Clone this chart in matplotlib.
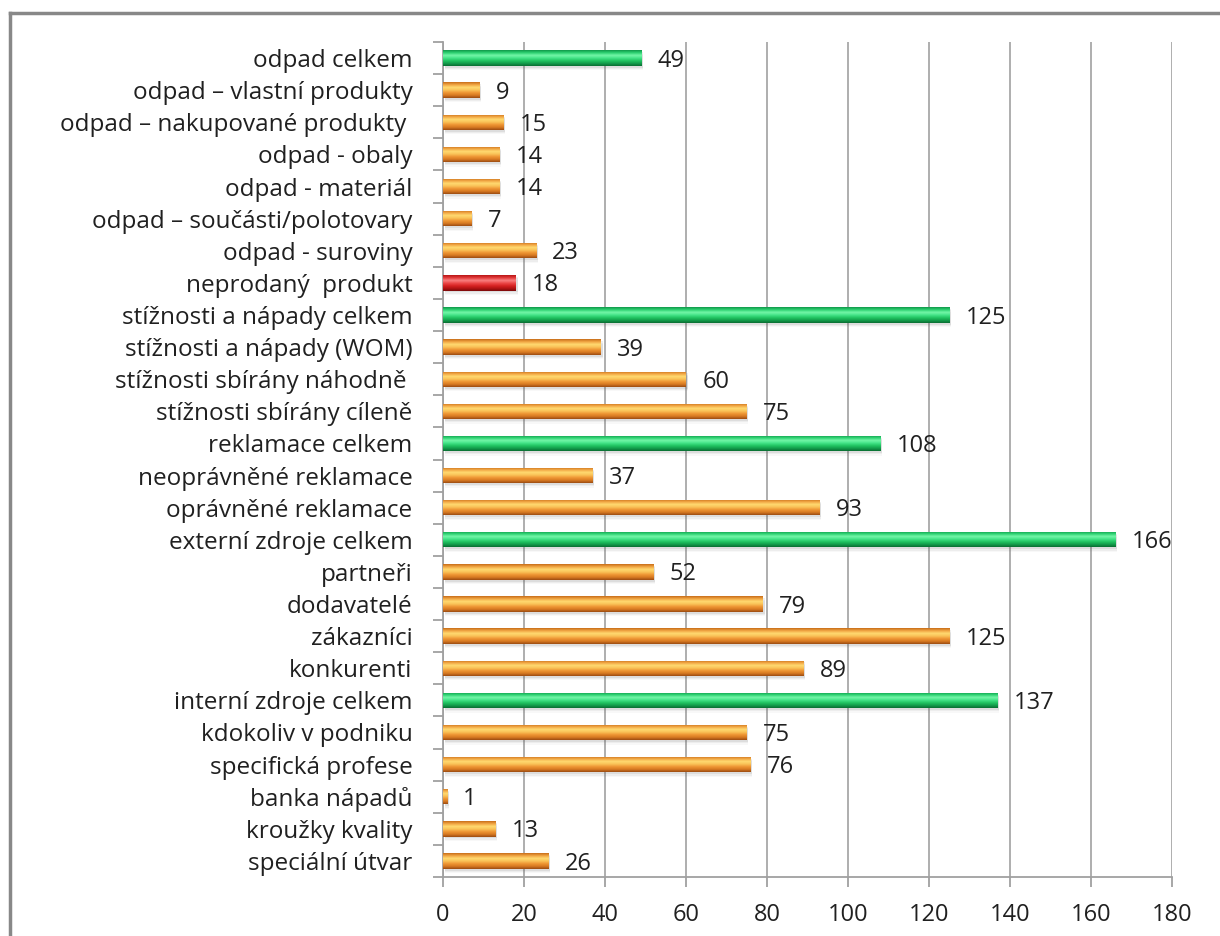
import numpy as np
import matplotlib
matplotlib.use("Agg")
import matplotlib.pyplot as plt
from matplotlib.colors import LinearSegmentedColormap
from matplotlib.lines import Line2D
from matplotlib.patches import Rectangle

plt.rcParams['font.family'] = ['Open Sans', 'DejaVu Sans']

categories = [
    "odpad celkem",
    "odpad \u2013 vlastní produkty",
    "odpad \u2013 nakupované produkty ",
    "odpad - obaly",
    "odpad - materiál",
    "odpad \u2013 součásti/polotovary",
    "odpad - suroviny",
    "neprodaný  produkt",
    "stížnosti a nápady celkem",
    "stížnosti a nápady (WOM)",
    "stížnosti sbírány náhodně ",
    "stížnosti sbírány cíleně",
    "reklamace celkem",
    "neoprávněné reklamace",
    "oprávněné reklamace",
    "externí zdroje celkem",
    "partneři",
    "dodavatelé",
    "zákazníci",
    "konkurenti",
    "interní zdroje celkem",
    "kdokoliv v podniku",
    "specifická profese",
    "banka nápadů",
    "kroužky kvality",
    "speciální útvar",
]
values = [49, 9, 15, 14, 14, 7, 23, 18, 125, 39, 60, 75, 108, 37, 93,
          166, 52, 79, 125, 89, 137, 75, 76, 1, 13, 26]
kinds = ["total", "item", "item", "item", "item", "item", "item", "unsold",
         "total", "item", "item", "item", "total", "item", "item",
         "total", "item", "item", "item", "item", "total",
         "item", "item", "item", "item", "item"]
x_ticks = [0, 20, 40, 60, 80, 100, 120, 140, 160, 180]

# cylinder-like shading, listed from the top edge of a bar to its bottom edge
shades = {
    "item": ["#C86E1A", "#F2A644", "#FFDA70", "#FAC258", "#EE9634", "#D87A22", "#9C4C12"],
    "total": ["#10984A", "#2ED272", "#74F6A8", "#44E488", "#22C462", "#139E4C", "#0A6E32"],
    "unsold": ["#B81616", "#E23A3A", "#F88080", "#EC4A4A", "#D82424", "#B41414", "#7C0A0A"],
}
cmaps = {k: LinearSegmentedColormap.from_list(k, v) for k, v in shades.items()}

fig = plt.figure(figsize=(12.2, 9.36), dpi=100)
ax = fig.add_axes([443 / 1220, 1 - 877 / 936, (1172 - 443) / 1220, (877 - 42) / 936])

y = np.arange(len(categories))
bar_h = 0.48
bars = ax.barh(y, values, height=bar_h, color="none", edgecolor="none", zorder=3)

grad = np.linspace(0, 1, 64).reshape(-1, 1)
for bar, kind, v in zip(bars, kinds, values):
    x0, y0 = bar.get_x(), bar.get_y()
    w, h = bar.get_width(), bar.get_height()
    # soft drop shadow under the bar
    for k, a in enumerate([0.10, 0.07, 0.04]):
        ax.add_patch(Rectangle((x0 + 0.4, y0 + 0.06 + 0.04 * k), w, h,
                               facecolor="#606060", alpha=a, edgecolor="none", zorder=2))
    im = ax.imshow(grad, cmap=cmaps[kind], aspect="auto",
                   extent=(x0, x0 + w, y0 + h, y0), zorder=3, interpolation="bilinear")
    im.set_clip_path(bar)
    ax.text(v + 4.0, y0 + h / 2 + 0.08, str(v), va="center", ha="left",
            fontsize=17, color="#202020", zorder=5)

ax.set_xlim(0, 180)
ax.set_ylim(len(categories) - 0.5, -0.5)
ax.set_xticks(x_ticks)
ax.set_xticklabels([str(t) for t in x_ticks], fontsize=17, color="#202020")
ax.tick_params(axis="x", length=7, width=1.3, color="#A0A0A0", pad=12)

# labels at bar centres, tick marks at category boundaries
ax.set_yticks(np.arange(len(categories) + 1) - 0.5)
ax.set_yticklabels([])
ax.tick_params(axis="y", which="major", length=7, width=1.3, color="#A0A0A0")
ax.set_yticks(y, minor=True)
ax.set_yticklabels(categories, minor=True, fontsize=17.5, color="#202020")
ax.tick_params(axis="y", which="minor", length=0, pad=22)

ax.grid(axis="x", color="#A8A8A8", linewidth=1.3, zorder=0)
ax.set_axisbelow(True)
for s in ["top", "right"]:
    ax.spines[s].set_visible(False)
for s in ["left", "bottom"]:
    ax.spines[s].set_color("#A0A0A0")
    ax.spines[s].set_linewidth(1.3)

# outer frame of the chart area
fig.add_artist(Line2D([10 / 1220, 10 / 1220], [0, 1 - 13 / 936], transform=fig.transFigure,
                      color="#888888", linewidth=2.5))
fig.add_artist(Line2D([10 / 1220, 1], [1 - 13 / 936, 1 - 13 / 936], transform=fig.transFigure,
                      color="#888888", linewidth=2.5))

fig.savefig("out.png", dpi=100, facecolor="white")
